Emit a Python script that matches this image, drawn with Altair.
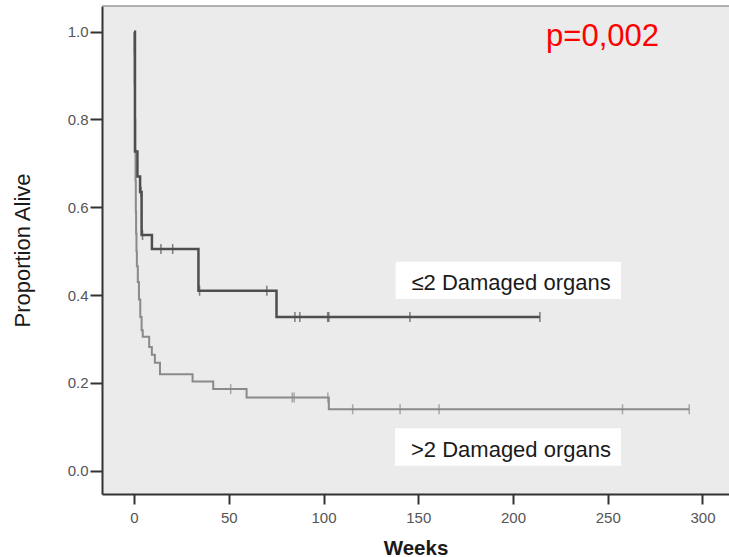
import altair as alt
import pandas as pd

# Kaplan-Meier estimate, <=2 damaged organs: step times (weeks) and survival
low_t = [0, 0.5, 1.8, 3.2, 4.0, 9.45, 34.0, 75.2, 214.2]
low_s = [1.0, 0.727, 0.67, 0.635, 0.537, 0.505, 0.41, 0.35, 0.35]
# censored observations, <=2 damaged organs
low_cens_t = [3.7, 4.5, 14.2, 20.4, 34.6, 70.1, 84.9, 87.5, 102.2, 102.8, 145.6, 214.2]
low_cens_s = [0.635, 0.537, 0.505, 0.505, 0.41, 0.41, 0.35, 0.35, 0.35, 0.35, 0.35, 0.35]

# Kaplan-Meier estimate, >2 damaged organs
high_t = [0, 0.2, 0.35, 0.5, 0.65, 0.8, 0.95, 1.1, 1.3, 1.5, 2.0, 2.6, 3.3, 4.0,
          4.6, 8.0, 9.4, 11.0, 13.7, 30.9, 41.8, 59.4, 102.8, 293.0]
high_s = [1.0, 0.95, 0.88, 0.80, 0.73, 0.66, 0.59, 0.54, 0.50, 0.466, 0.43, 0.39,
          0.35, 0.32, 0.305, 0.282, 0.264, 0.246, 0.22, 0.203, 0.186, 0.167, 0.14, 0.14]
high_cens_t = [51.0, 83.5, 84.5, 102.3, 115.4, 140.4, 161.0, 257.8, 293.0]
high_cens_s = [0.186, 0.167, 0.167, 0.167, 0.14, 0.14, 0.14, 0.14, 0.14]

x_ticks = [0, 50, 100, 150, 200, 250, 300]
y_ticks = [0.0, 0.2, 0.4, 0.6, 0.8, 1.0]
group_labels = ["\u22642 Damaged organs", ">2 Damaged organs"]
p_label = "p=0,002"

FONT = "Liberation Sans"
W, H = 627, 488
DARK = "#4e4e4e"
LIGHT = "#8a8a8a"

low = pd.DataFrame({"weeks": low_t, "surv": low_s})
low_c = pd.DataFrame({"weeks": low_cens_t, "surv": low_cens_s})
high = pd.DataFrame({"weeks": high_t, "surv": high_s})
high_c = pd.DataFrame({"weeks": high_cens_t, "surv": high_cens_s})

xs = alt.Scale(domain=[-16.9, 314.0], nice=False, zero=False)
ys = alt.Scale(domain=[-0.053, 1.0585], nice=False, zero=False)

x_enc = alt.X("weeks:Q", scale=xs, title="Weeks",
              axis=alt.Axis(values=x_ticks, format="d", grid=False))
y_enc = alt.Y("surv:Q", scale=ys, title="Proportion Alive",
              axis=alt.Axis(values=y_ticks, format=".1f", grid=False))

def curve(df, color, width):
    return alt.Chart(df).mark_line(interpolate="step-after", color=color,
                                   strokeWidth=width).encode(x=x_enc, y=y_enc)

def censor(df, color):
    return alt.Chart(df).mark_tick(orient="vertical", color=color, size=10,
                                   thickness=1.5).encode(x=x_enc, y=y_enc)

one = pd.DataFrame({"k": [0]})

top_border = alt.Chart(one).mark_rule(color="#9a9a9a", strokeWidth=1.5).encode(
    x=alt.value(0), x2=alt.value(W), y=alt.value(0))

boxes = pd.DataFrame({
    "label": group_labels,
    "x0": [293.7, 293.0], "x1": [519.0, 519.0],
    "y0": [255.7, 422.3], "y1": [293.0, 459.7],
    "tx": [309.5, 309.0], "ty": [284.0, 450.5],
})

def label_box(i):
    row = boxes.iloc[[i]]
    rect = alt.Chart(row).mark_rect(color="white").encode(
        x=alt.value(float(row.x0.iloc[0])), x2=alt.value(float(row.x1.iloc[0])),
        y=alt.value(float(row.y0.iloc[0])), y2=alt.value(float(row.y1.iloc[0])))
    txt = alt.Chart(row).mark_text(align="left", baseline="alphabetic", font=FONT,
                                   fontSize=22, color="#1a1a1a").encode(
        text="label:N",
        x=alt.value(float(row.tx.iloc[0])), y=alt.value(float(row.ty.iloc[0])))
    return rect + txt

p_text = alt.Chart(pd.DataFrame({"t": [p_label]})).mark_text(
    align="center", baseline="alphabetic", font=FONT, fontSize=31, color="#ff0000"
).encode(text="t:N", x=alt.value(500.5), y=alt.value(40))

chart = alt.layer(
    top_border,
    curve(high, LIGHT, 2),
    censor(high_c, LIGHT),
    curve(low, DARK, 2.5),
    censor(low_c, DARK),
    label_box(0),
    label_box(1),
    p_text,
).properties(
    width=W, height=H,
    autosize=alt.AutoSizeParams(type="none"),
    padding={"left": 102, "top": 6, "right": 0, "bottom": 63},
    background="white",
).configure_view(
    fill="#ebebeb", strokeWidth=0
).configure_axis(
    domainColor="#333333", domainWidth=2,
    tickColor="#333333", tickWidth=2, tickSize=10,
    labelFont=FONT, labelFontSize=15, labelColor="#555555",
    titleFont=FONT, titleColor="#1a1a1a",
).configure_axisX(
    labelPadding=6, titleFontSize=20.5, titleFontWeight="bold",
    titleBaseline="alphabetic", titleY=60,
).configure_axisY(
    labelPadding=2, tickSize=12, titleFontSize=22, titleFontWeight="normal",
    titleBaseline="alphabetic", titleX=-73,
)

chart.save("out.html", embed_options={"renderer": "svg", "actions": False})
